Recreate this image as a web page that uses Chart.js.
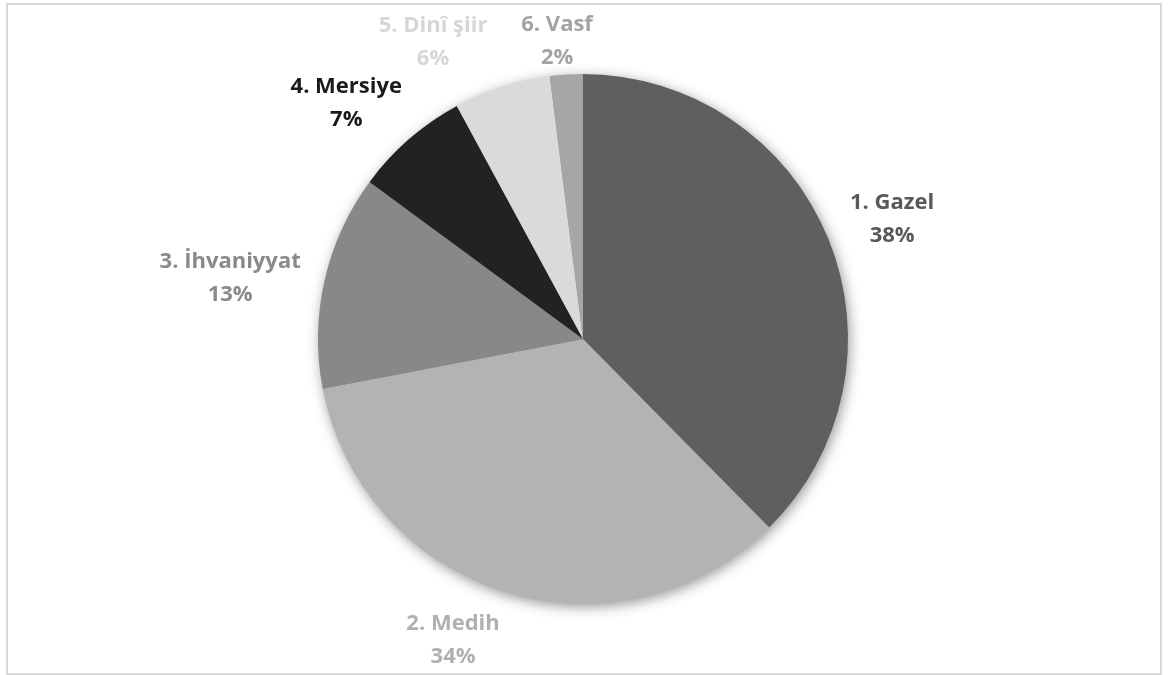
<!DOCTYPE html>
<html>
<head>
<meta charset="utf-8">
<script src="https://cdn.jsdelivr.net/npm/chart.js@4.4.0/dist/chart.umd.min.js"></script>
<style>
  html, body { margin: 0; padding: 0; background: #ffffff; }
  #wrap { position: relative; width: 1173px; height: 675px; }
  #frame { position: absolute; left: 6px; top: 3px; width: 1152px; height: 668px; border: 2px solid #d9d9d9; pointer-events: none; }
  canvas { position: absolute; left: 0; top: 0; }
</style>
</head>
<body>
<div id="wrap">
  <canvas id="c" width="1173" height="675"></canvas>
  <div id="frame"></div>
</div>
<script>
// Data
const categories = ['1. Gazel', '2. Medih', '3. İhvaniyyat', '4. Mersiye', '5. Dinî şiir', '6. Vasf'];
const shares = [37.6, 34.4, 13.1, 7.0, 5.9, 2.0];
const percentLabels = ['38%', '34%', '13%', '7%', '6%', '2%'];

// Styles
const sliceColors = ['#5f5f5f', '#b3b3b3', '#888888', '#222222', '#dadada', '#a6a6a6'];
const labelColors = ['#595959', '#b0b0b0', '#8a8a8a', '#1a1a1a', '#d6d6d6', '#a3a3a3'];
const labelNudges = [[1, 6], [-31, -17], [-28, 12], [-18, 15], [-48, 20], [-5, 34]];

const shadowPlugin = {
  id: 'pieShadow',
  beforeDatasetsDraw(chart) {
    const meta = chart.getDatasetMeta(0);
    if (!meta.data.length) return;
    const a = meta.data[0];
    const ctx = chart.ctx;
    ctx.save();
    ctx.shadowColor = 'rgba(0,0,0,0.45)';
    ctx.shadowBlur = 14;
    ctx.shadowOffsetX = 2;
    ctx.shadowOffsetY = 3;
    ctx.beginPath();
    ctx.arc(a.x, a.y, a.outerRadius - 1, 0, Math.PI * 2);
    ctx.fillStyle = '#888888';
    ctx.fill();
    ctx.restore();
  }
};

const labelPlugin = {
  id: 'outLabels',
  afterDatasetsDraw(chart) {
    const meta = chart.getDatasetMeta(0);
    const ctx = chart.ctx;
    ctx.save();
    ctx.font = 'bold 22px "Open Sans"';
    ctx.textAlign = 'center';
    ctx.textBaseline = 'middle';
    meta.data.forEach((arc, i) => {
      const mid = (arc.startAngle + arc.endAngle) / 2;
      const D = arc.outerRadius * 1.257;
      const cx = arc.x + D * Math.cos(mid) + labelNudges[i][0];
      const cy = arc.y + D * Math.sin(mid) + labelNudges[i][1];
      ctx.fillStyle = labelColors[i];
      ctx.fillText(categories[i], cx, cy - 16);
      ctx.fillText(percentLabels[i], cx, cy + 17);
    });
    ctx.restore();
  }
};

new Chart(document.getElementById('c'), {
  type: 'pie',
  data: {
    labels: categories,
    datasets: [{
      data: shares,
      backgroundColor: sliceColors,
      borderWidth: 0
    }]
  },
  options: {
    responsive: false,
    animation: false,
    layout: { padding: { top: 74, bottom: 71, left: 0, right: 7 } },
    plugins: { legend: { display: false }, tooltip: { enabled: false } }
  },
  plugins: [shadowPlugin, labelPlugin]
});
</script>
</body>
</html>
